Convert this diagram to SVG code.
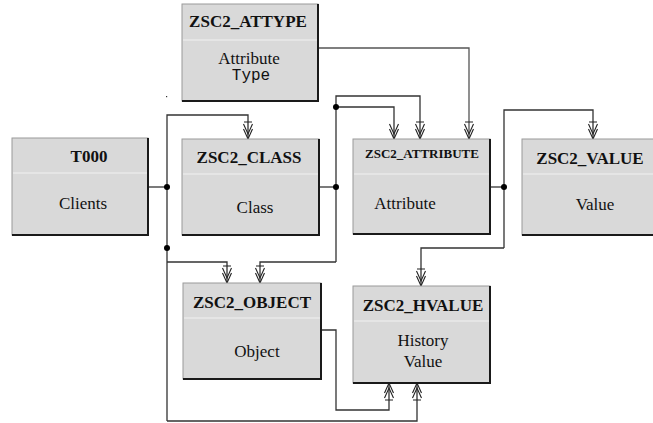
<svg xmlns="http://www.w3.org/2000/svg" width="653" height="423" viewBox="0 0 653 423">
<style>
.box{fill:#d9d9d9;stroke:#9a9a9a;stroke-width:1}
.sh{fill:none;stroke:#1a1a1a;stroke-width:2}
.div{stroke:#f2f2f2;stroke-width:1.2}
.hd{font-family:"Liberation Serif","Times New Roman",serif;font-weight:bold;font-size:17px;fill:#111;text-anchor:middle}
.hds{font-family:"Liberation Serif","Times New Roman",serif;font-weight:bold;font-size:13px;fill:#111;text-anchor:middle}
.tx{font-family:"Liberation Serif","Times New Roman",serif;font-size:17px;fill:#111;text-anchor:middle}
.mono{font-family:"Liberation Mono","Courier New",monospace;font-size:16px;fill:#111;text-anchor:middle}
.ln{fill:none;stroke:#333;stroke-width:1.3}
.dot{fill:#000}
</style>
<defs>
<marker id="ab" viewBox="-20 -6 22 12" refX="0" refY="0" markerWidth="22" markerHeight="12" markerUnits="userSpaceOnUse" orient="auto" overflow="visible">
<path d="M-17,-4 L-17,4 M-15,-4.5 L-5,0 L-15,4.5 M-10,-4.5 L0,0 L-10,4.5" fill="none" stroke="#222" stroke-width="1.1"/>
</marker>
<marker id="an" viewBox="-20 -6 22 12" refX="0" refY="0" markerWidth="22" markerHeight="12" markerUnits="userSpaceOnUse" orient="auto" overflow="visible">
<path d="M-15,-4.5 L-5,0 L-15,4.5 M-10,-4.5 L0,0 L-10,4.5" fill="none" stroke="#222" stroke-width="1.1"/>
</marker>
</defs>
<g id="connectors">
<polyline class="ln" points="148,187 167,187"/>
<polyline class="ln" points="167,421 167,115 248,115 248,139" marker-end="url(#ab)"/>
<polyline class="ln" points="167,262 227,262 227,283" marker-end="url(#ab)"/>
<polyline class="ln" points="167,421 417,421 417,383" marker-end="url(#ab)"/>
<polyline class="ln" points="319,187 336,187"/>
<polyline class="ln" points="336,262 336,96 420,96 420,139" marker-end="url(#ab)"/>
<polyline class="ln" points="336,107 394,107 394,139" marker-end="url(#an)"/>
<polyline class="ln" points="336,262 260,262 260,283" marker-end="url(#ab)"/>
<polyline class="ln" points="318,48 469,48 469,139" marker-end="url(#ab)" style="stroke:#555"/>
<polyline class="ln" points="490,187 504,187"/>
<polyline class="ln" points="504,248 504,110 593,110 593,139" marker-end="url(#ab)"/>
<polyline class="ln" points="504,248 421,248 421,286" marker-end="url(#ab)"/>
<polyline class="ln" points="321,330 336,330 336,410 389,410 389,383" marker-end="url(#ab)"/>
<circle class="dot" cx="167" cy="187" r="3"/>
<circle class="dot" cx="167" cy="248" r="3"/>
<circle class="dot" cx="336" cy="187" r="3"/>
<circle class="dot" cx="336" cy="107" r="3"/>
<circle class="dot" cx="504" cy="187" r="3"/>
<rect x="166" y="96" width="1.2" height="1.2" fill="#333"/>
<rect x="265.5" y="96.5" width="1.2" height="1.2" fill="#333"/>
</g>
<g id="ZSC2_ATTYPE">
<rect class="box" x="182" y="4" width="136" height="97"/>
<polyline class="sh" points="318,4 318,101 182,101"/>
<line class="div" x1="183" y1="40" x2="317" y2="40"/>
<text class="hd" x="248" y="27">ZSC2_ATTYPE</text>
<text class="tx" x="249" y="64">Attribute</text>
<text class="mono" x="251" y="80">Type</text>
</g>
<g id="T000">
<rect class="box" x="12" y="138" width="136" height="97"/>
<polyline class="sh" points="148,138 148,235 12,235"/>
<line class="div" x1="13" y1="173" x2="147" y2="173"/>
<text class="hd" x="89" y="162">T000</text>
<text class="tx" x="83" y="209">Clients</text>
</g>
<g id="ZSC2_CLASS">
<rect class="box" x="182" y="139" width="137" height="96"/>
<polyline class="sh" points="319,139 319,235 182,235"/>
<line class="div" x1="183" y1="174" x2="318" y2="174"/>
<text class="hd" x="249" y="163">ZSC2_CLASS</text>
<text class="tx" x="255" y="213">Class</text>
</g>
<g id="ZSC2_ATTRIBUTE">
<rect class="box" x="353" y="139" width="137" height="95"/>
<polyline class="sh" points="490,139 490,234 353,234"/>
<line class="div" x1="354" y1="174" x2="489" y2="174"/>
<text class="hds" x="422" y="158">ZSC2_ATTRIBUTE</text>
<text class="tx" x="405" y="209">Attribute</text>
</g>
<g id="ZSC2_VALUE">
<rect class="box" x="522" y="139" width="132" height="96"/>
<polyline class="sh" points="522,235 654,235"/>
<line class="div" x1="523" y1="174" x2="653" y2="174"/>
<text class="hd" x="590" y="164">ZSC2_VALUE</text>
<text class="tx" x="595" y="210">Value</text>
</g>
<g id="ZSC2_OBJECT">
<rect class="box" x="183" y="283" width="138" height="96"/>
<polyline class="sh" points="321,283 321,379 183,379"/>
<line class="div" x1="184" y1="318" x2="320" y2="318"/>
<text class="hd" x="252" y="308">ZSC2_OBJECT</text>
<text class="tx" x="257" y="357">Object</text>
</g>
<g id="ZSC2_HVALUE">
<rect class="box" x="353" y="286" width="137" height="97"/>
<polyline class="sh" points="490,286 490,383 353,383"/>
<line class="div" x1="354" y1="321" x2="489" y2="321"/>
<text class="hd" x="423" y="311">ZSC2_HVALUE</text>
<text class="tx" x="423" y="346">History</text>
<text class="tx" x="423" y="367">Value</text>
</g>
</svg>
